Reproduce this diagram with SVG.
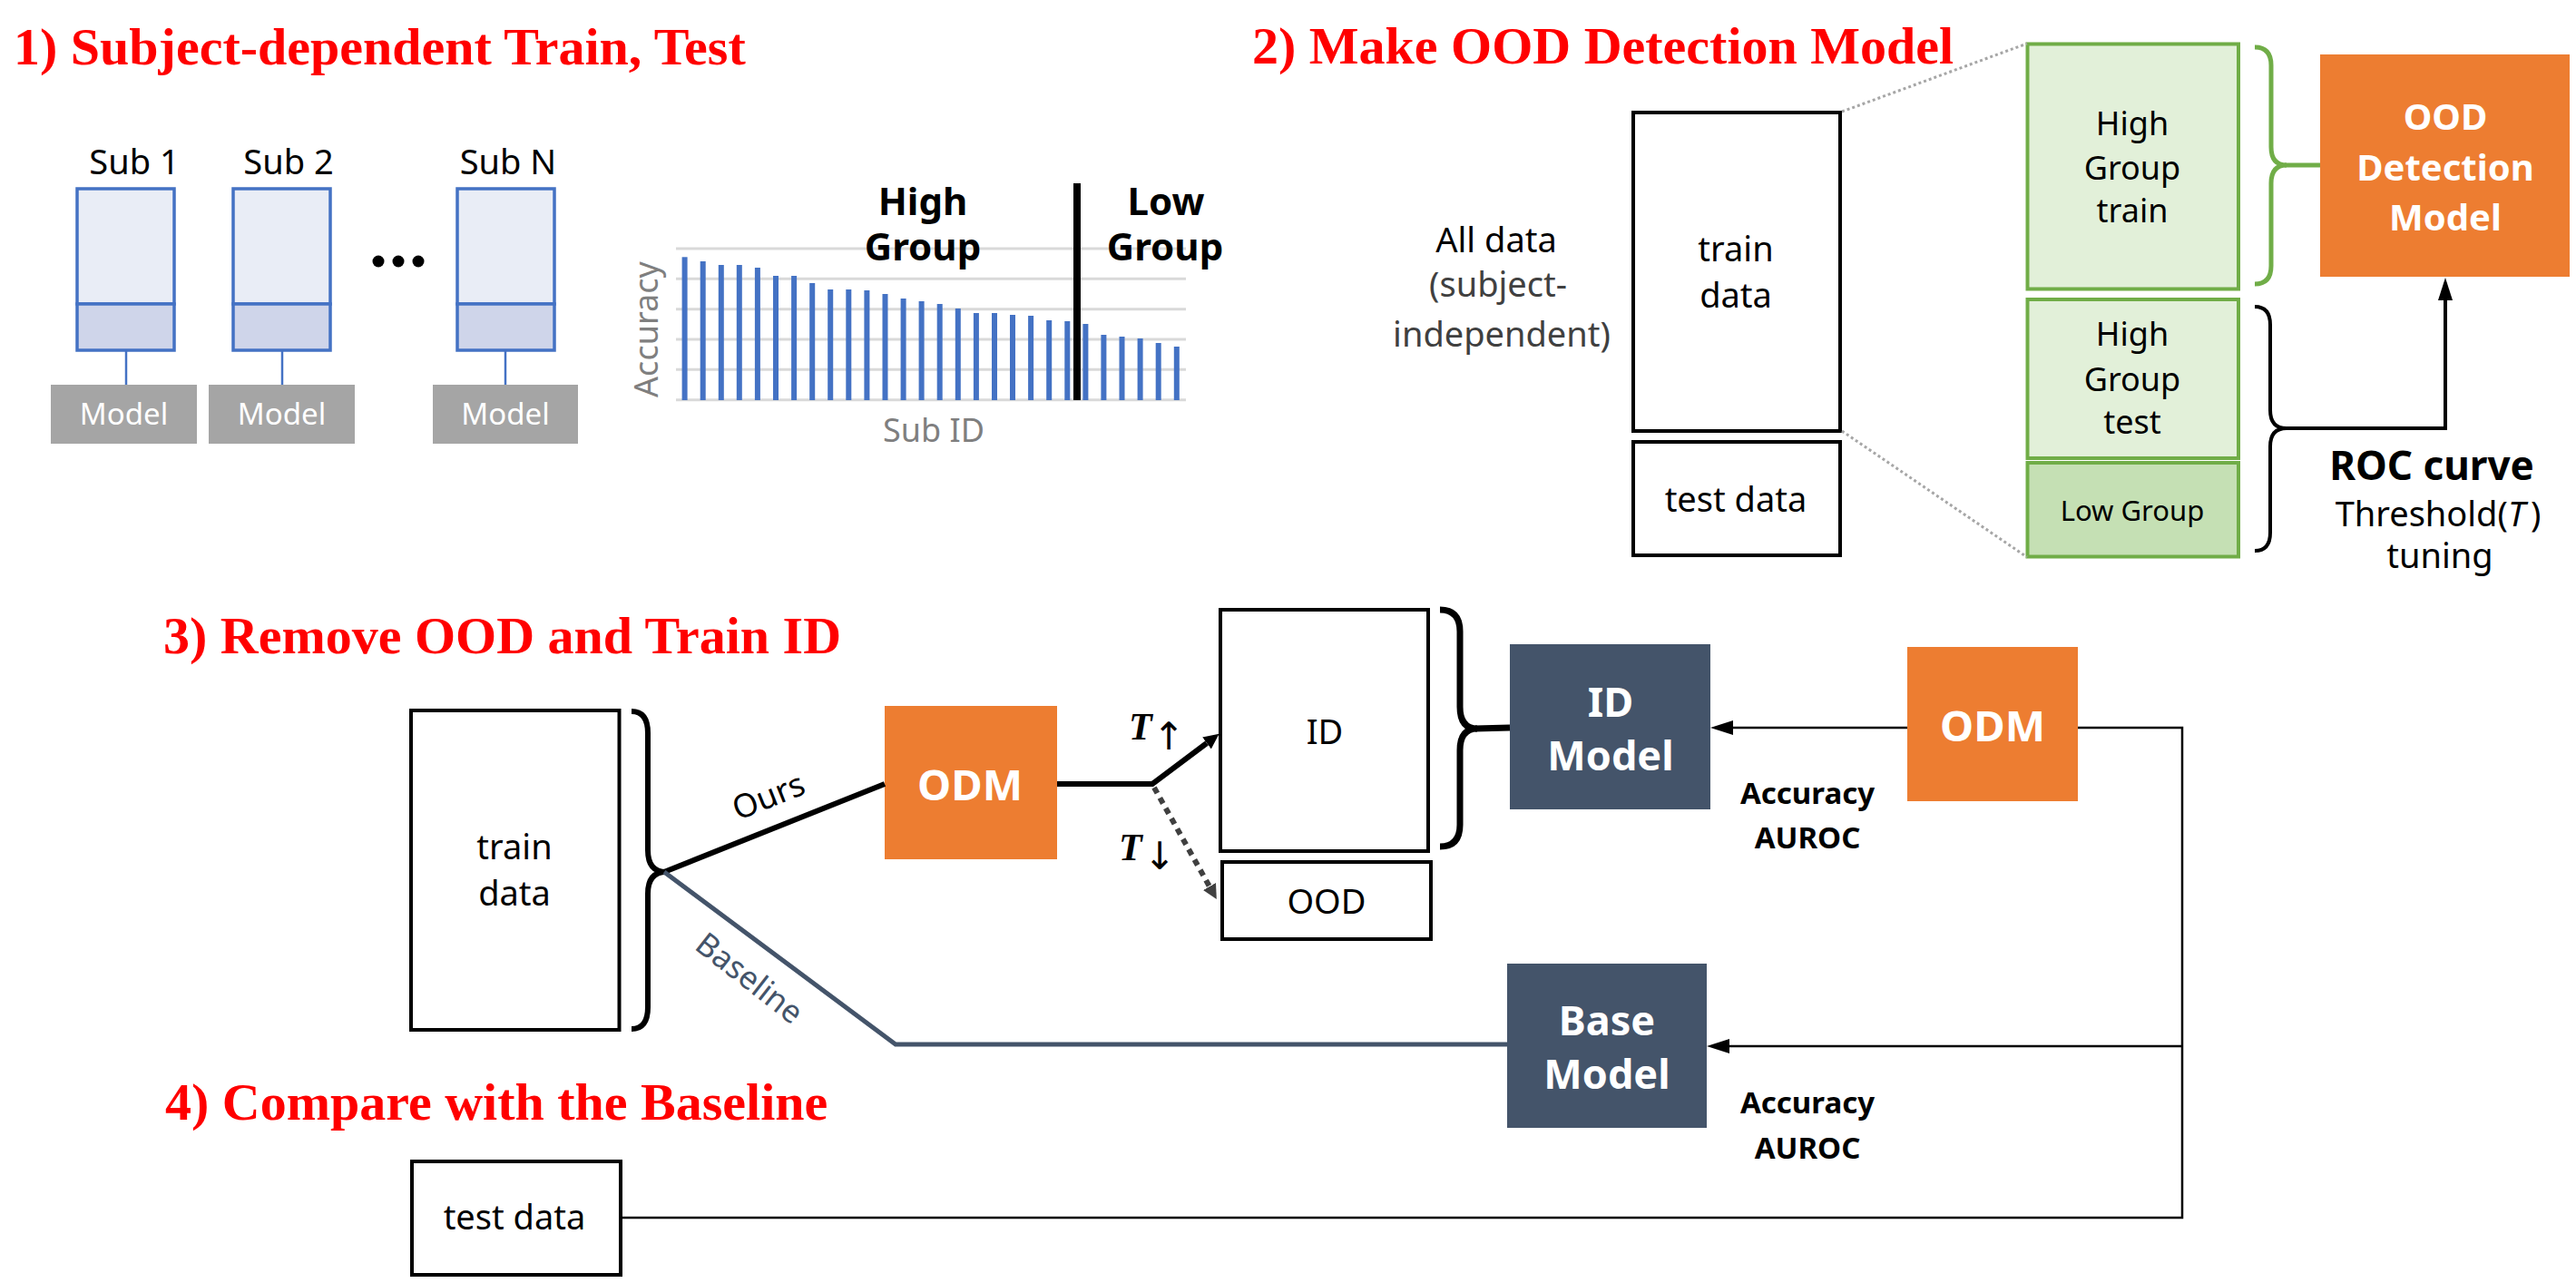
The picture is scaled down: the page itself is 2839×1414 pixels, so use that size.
<svg xmlns="http://www.w3.org/2000/svg" width="2839" height="1414" viewBox="0 0 2839 1414">
<style>
.title{font-family:"Liberation Serif","Times New Roman",serif;font-weight:700;font-size:58px;fill:#FF0000}
.t{font-family:"Noto Sans","Open Sans",sans-serif;fill:#000}
.b{font-weight:700}
.w{fill:#fff}
.m{text-anchor:middle}
.box{fill:#fff;stroke:#000;stroke-width:4}
.sub{stroke:#4472C4;stroke-width:3.5}
.grn{stroke:#70AD47;stroke-width:4}
.grid{stroke:#D9D9D9;stroke-width:3}
.bar{fill:#4472C4}
.thin{fill:none;stroke:#000;stroke-width:2.5}
.tit{font-family:"Liberation Serif","Times New Roman",serif;font-weight:700;font-style:italic;font-size:42px}
.arr{font-family:"DejaVu Sans",sans-serif;font-size:42px;text-anchor:middle}
</style>
<defs>
<marker id="ah" markerUnits="userSpaceOnUse" markerWidth="25" markerHeight="16" refX="0" refY="8" orient="auto"><path d="M0,0 L25,8 L0,16 z" fill="#000"/></marker>
<marker id="ahT" markerUnits="userSpaceOnUse" markerWidth="17" markerHeight="18" refX="0" refY="9" orient="auto"><path d="M0,1 L17,9 L0,17 z" fill="#000"/></marker>
<marker id="ahG" markerUnits="userSpaceOnUse" markerWidth="16" markerHeight="18" refX="0" refY="9" orient="auto"><path d="M0,1 L16,9 L0,17 z" fill="#404040"/></marker>
</defs>
<rect width="2839" height="1414" fill="#fff"/>

<g id="titles">
<text class="title" x="15" y="71">1) Subject-dependent Train, Test</text>
<text class="title" x="1380" y="70">2) Make OOD Detection Model</text>
<text class="title" x="180" y="720">3) Remove OOD and Train ID</text>
<text class="title" x="182" y="1234">4) Compare with the Baseline</text>
</g>

<!-- Section 1 -->
<g id="sub1">
<rect x="85" y="208" width="107" height="127" fill="#E9EDF6" class="sub"/>
<rect x="85" y="335" width="107" height="51" fill="#CFD5EA" class="sub"/>
<text class="t m" x="148" y="192" font-size="38">Sub 1</text>
</g>
<g id="sub2">
<rect x="257" y="208" width="107" height="127" fill="#E9EDF6" class="sub"/>
<rect x="257" y="335" width="107" height="51" fill="#CFD5EA" class="sub"/>
<text class="t m" x="318" y="192" font-size="38">Sub 2</text>
</g>
<g id="subN">
<rect x="504" y="208" width="107" height="127" fill="#E9EDF6" class="sub"/>
<rect x="504" y="335" width="107" height="51" fill="#CFD5EA" class="sub"/>
<text class="t m" x="560" y="192" font-size="38">Sub N</text>
</g>
<g id="dots" fill="#000">
<circle cx="417" cy="288" r="6.5"/><circle cx="439" cy="288" r="6.5"/><circle cx="461" cy="288" r="6.5"/>
</g>
<g id="model1"><rect x="56" y="424" width="161" height="65" fill="#A5A5A5"/><text class="t w m" x="136.5" y="468" font-size="33">Model</text></g>
<g id="model2"><rect x="230" y="424" width="161" height="65" fill="#A5A5A5"/><text class="t w m" x="310.5" y="468" font-size="33">Model</text></g>
<g id="modelN"><rect x="477" y="424" width="160" height="65" fill="#A5A5A5"/><text class="t w m" x="557" y="468" font-size="33">Model</text></g>

<g id="chart">
<g class="grid">
<line x1="745" y1="274" x2="1307" y2="274"/>
<line x1="745" y1="307.3" x2="1307" y2="307.3"/>
<line x1="745" y1="340.7" x2="1307" y2="340.7"/>
<line x1="745" y1="374" x2="1307" y2="374"/>
<line x1="745" y1="407.3" x2="1307" y2="407.3"/>
<line x1="745" y1="440.7" x2="1307" y2="440.7"/>
</g>
<g class="bar">
<rect x="751.6" y="283.3" width="6" height="157.7"/>
<rect x="771.7" y="288" width="6" height="153"/>
<rect x="791.8" y="292" width="6" height="149"/>
<rect x="811.8" y="292" width="6" height="149"/>
<rect x="831.9" y="295" width="6" height="146"/>
<rect x="852.0" y="304" width="6" height="137"/>
<rect x="872.1" y="304" width="6" height="137"/>
<rect x="892.2" y="312" width="6" height="129"/>
<rect x="912.2" y="319" width="6" height="122"/>
<rect x="932.3" y="319" width="6" height="122"/>
<rect x="952.4" y="320" width="6" height="121"/>
<rect x="972.5" y="324" width="6" height="117"/>
<rect x="992.6" y="329" width="6" height="112"/>
<rect x="1012.6" y="332" width="6" height="109"/>
<rect x="1032.7" y="335" width="6" height="106"/>
<rect x="1052.8" y="340" width="6" height="101"/>
<rect x="1072.9" y="345" width="6" height="96"/>
<rect x="1093.0" y="345" width="6" height="96"/>
<rect x="1113.0" y="347" width="6" height="94"/>
<rect x="1133.1" y="348" width="6" height="93"/>
<rect x="1153.2" y="353" width="6" height="88"/>
<rect x="1173.3" y="354" width="6" height="87"/>
<rect x="1193.4" y="357" width="6" height="84"/>
<rect x="1213.4" y="369" width="6" height="72"/>
<rect x="1233.5" y="371" width="6" height="70"/>
<rect x="1253.6" y="373" width="6" height="68"/>
<rect x="1273.7" y="378" width="6" height="63"/>
<rect x="1293.8" y="382" width="6" height="59"/>
</g>
<rect x="1183" y="202" width="8" height="239" fill="#000"/>
<text class="t b m" x="1017" y="236.7" font-size="42">High</text>
<text class="t b m" x="1017" y="286.7" font-size="42">Group</text>
<text class="t b m" x="1285" y="236.7" font-size="42">Low</text>
<text class="t b m" x="1284" y="286.7" font-size="42">Group</text>
<text class="t m" x="725" y="363" font-size="36" style="fill:#7F7F7F" transform="rotate(-90 725 363)">Accuracy</text>
<text class="t m" x="1029" y="486.7" font-size="36" style="fill:#7F7F7F">Sub ID</text>
</g>

<!-- Section 2 -->
<g id="alldata">
<text class="t m" x="1649" y="278" font-size="38">All data</text>
<text class="t m" x="1651" y="327" font-size="38" style="fill:#404040">(subject-</text>
<text class="t m" x="1655" y="382" font-size="38" style="fill:#404040">independent)</text>
</g>
<g id="traindata2"><rect class="box" x="1800" y="124" width="228" height="351"/>
<text class="t m" x="1913" y="288" font-size="38">train</text><text class="t m" x="1913" y="339" font-size="38">data</text></g>
<g id="testdata2"><rect class="box" x="1800" y="487" width="228" height="125"/>
<text class="t m" x="1913" y="564" font-size="38">test data</text></g>
<g id="hgtrain"><rect class="grn" x="2234.5" y="48.5" width="232.5" height="270" fill="#E2F0D9"/>
<text class="t m" x="2350" y="149" font-size="36">High</text><text class="t m" x="2350" y="198" font-size="36">Group</text><text class="t m" x="2350" y="245" font-size="36">train</text></g>
<g id="hgtest"><rect class="grn" x="2234.5" y="330" width="232.5" height="175" fill="#E2F0D9"/>
<text class="t m" x="2350" y="381" font-size="36">High</text><text class="t m" x="2350" y="431" font-size="36">Group</text><text class="t m" x="2350" y="478" font-size="36">test</text></g>
<g id="lowgroup"><rect class="grn" x="2234.5" y="510" width="232.5" height="103.5" fill="#C5E0B4"/>
<text class="t m" x="2350" y="574" font-size="31">Low Group</text></g>
<g id="oodmodel"><rect x="2557" y="60" width="275" height="245" fill="#ED7D31"/>
<text class="t b w m" x="2695" y="143" font-size="40">OOD</text>
<text class="t b w m" x="2695" y="199" font-size="40">Detection</text>
<text class="t b w m" x="2695" y="254" font-size="40">Model</text></g>
<g id="roc">
<text class="t b m" x="2680" y="529" font-size="44">ROC curve</text>
<text class="t m" x="2687" y="580" font-size="38">Threshold(<tspan font-style="italic">T</tspan><tspan dx="6">)</tspan></text>
<text class="t m" x="2689" y="626" font-size="38">tuning</text>
</g>

<!-- Section 3 -->
<g id="traindata3"><rect class="box" x="453" y="783" width="229.5" height="352"/>
<text class="t m" x="567" y="947" font-size="38">train</text><text class="t m" x="567" y="998" font-size="38">data</text></g>
<g id="odm1"><rect x="975" y="778" width="190" height="169" fill="#ED7D31"/>
<text class="t b w m" x="1069" y="882" font-size="47">ODM</text></g>
<g id="idbox"><rect class="box" x="1345" y="672" width="229" height="266"/>
<text class="t m" x="1460" y="820" font-size="38">ID</text></g>
<g id="oodbox"><rect class="box" x="1347" y="950" width="230" height="85"/>
<text class="t m" x="1462" y="1007" font-size="38">OOD</text></g>
<g id="idmodel"><rect x="1664" y="710" width="221" height="182" fill="#44546A"/>
<text class="t b w m" x="1775" y="790" font-size="45">ID</text>
<text class="t b w m" x="1775" y="849" font-size="45">Model</text></g>
<g id="odm2"><rect x="2102" y="713" width="188" height="170" fill="#ED7D31"/>
<text class="t b w m" x="2196" y="817" font-size="47">ODM</text></g>
<g id="basemodel"><rect x="1661" y="1062" width="220" height="181" fill="#44546A"/>
<text class="t b w m" x="1771" y="1141" font-size="45">Base</text>
<text class="t b w m" x="1771" y="1200" font-size="45">Model</text></g>
<g id="metrics">
<text class="t b m" x="1992" y="886" font-size="33">Accuracy</text>
<text class="t b m" x="1992" y="935" font-size="33">AUROC</text>
<text class="t b m" x="1992" y="1227" font-size="33">Accuracy</text>
<text class="t b m" x="1992" y="1277" font-size="33">AUROC</text>
</g>
<g id="testdata4"><rect class="box" x="454" y="1280" width="230" height="125"/>
<text class="t m" x="567" y="1355" font-size="38">test data</text></g>

<g id="connectors">
<g stroke="#4472C4" stroke-width="2.5">
<line x1="139" y1="386" x2="139" y2="424"/>
<line x1="311" y1="386" x2="311" y2="424"/>
<line x1="557" y1="386" x2="557" y2="424"/>
</g>
<g stroke="#A6A6A6" stroke-width="3" stroke-dasharray="3 3" fill="none">
<line x1="2030" y1="123" x2="2234" y2="48"/>
<line x1="2030" y1="475" x2="2234" y2="614"/>
</g>
<path d="M2485,52 Q2503,52 2503,72 L2503,162 Q2503,182 2520,182 Q2503,182 2503,202 L2503,293 Q2503,313 2485,313" fill="none" stroke="#70AD47" stroke-width="5"/>
<line x1="2518" y1="182" x2="2557" y2="182" stroke="#70AD47" stroke-width="5"/>
<path d="M2485,338 Q2502,338 2502,358 L2502,452 Q2502,472 2520,472 Q2502,472 2502,492 L2502,587 Q2502,607 2485,607" fill="none" stroke="#000" stroke-width="4"/>
<path d="M2518,472 L2695,472 L2695,331" fill="none" stroke="#000" stroke-width="4" marker-end="url(#ah)"/>
<path d="M696,784 Q714,784 714,808 L714,937 Q714,961 734,961 Q714,961 714,985 L714,1110 Q714,1134 696,1134" fill="none" stroke="#000" stroke-width="6"/>
<line x1="732" y1="961" x2="975" y2="864" stroke="#000" stroke-width="6"/>
<path d="M732,961 L987,1151 L1661,1151" fill="none" stroke="#44546A" stroke-width="5"/>
<path d="M1165,864 L1270,864 L1330,819" fill="none" stroke="#000" stroke-width="6" marker-end="url(#ahT)"/>
<line x1="1272" y1="868" x2="1333" y2="977" stroke="#404040" stroke-width="6" stroke-dasharray="7 6" marker-end="url(#ahG)"/>
<path d="M1587,672 Q1609,672 1609,696 L1609,779 Q1609,803 1628,803 Q1609,803 1609,827 L1609,909 Q1609,933 1587,933" fill="none" stroke="#000" stroke-width="7"/>
<line x1="1626" y1="803" x2="1664" y2="802" stroke="#000" stroke-width="7"/>
<line x1="2102" y1="802" x2="1910" y2="802" class="thin" marker-end="url(#ah)"/>
<path d="M2290,802 L2405,802 L2405,1342 L684,1342" class="thin"/>
<line x1="2405" y1="1153" x2="1906" y2="1153" class="thin" marker-end="url(#ah)"/>
</g>

<g id="labels">
<text class="t m" font-size="36" transform="translate(847 878) rotate(-21.8)" x="0" y="12">Ours</text>
<text class="t m" font-size="35" style="fill:#44546A" transform="translate(826 1078) rotate(38)" x="0" y="12">Baseline</text>
<text class="tit" x="1244" y="815">T</text>
<text class="arr" x="1288" y="826">↑</text>
<text class="tit" x="1233" y="948">T</text>
<text class="arr" x="1278" y="958">↓</text>
</g>
</svg>
